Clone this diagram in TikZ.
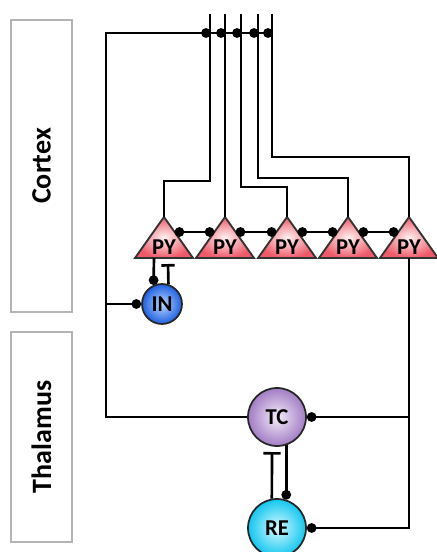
\documentclass[tikz,border=0pt]{standalone}
\usepackage{fontspec}
\setmainfont{Carlito}
\usetikzlibrary{arrows.meta}
\definecolor{pyin}{HTML}{FFF2F2}
\definecolor{pyout}{HTML}{EE5A6A}
\definecolor{inin}{HTML}{B8D8FF}
\definecolor{inout}{HTML}{1E5EE0}
\definecolor{tcin}{HTML}{F4ECFA}
\definecolor{tcout}{HTML}{A27CC4}
\definecolor{rein}{HTML}{D6FAFF}
\definecolor{reout}{HTML}{12C6F0}
\definecolor{boxgray}{HTML}{B4B4B4}
\begin{document}
\begin{tikzpicture}[x=0.75pt,y=-0.75pt,
  wire/.style={line width=2pt, black},
  region/.style={draw=boxgray, line width=2pt},
  regionlbl/.style={font=\bfseries\fontsize{21}{21}\selectfont, rotate=90},
  cell/.style={circle, draw=black!85, line width=1.3pt, inner sep=0pt, font=\bfseries\fontsize{17}{17}\selectfont},
  pylbl/.style={font=\bfseries\fontsize{17}{17}\selectfont, inner sep=0pt},
  todot/.style={-{Circle[length=7.2pt,width=7.2pt]}},
  bothdot/.style={{Circle[length=7.2pt,width=7.2pt]}-{Circle[length=7.2pt,width=7.2pt]}},
  tobar/.style={-{Bar[width=10pt]}},
  tobarwide/.style={-{Bar[width=13pt]}}
]
\useasboundingbox (0,0) rectangle (436,552);

% region boxes
\draw[region] (11,20) rectangle (72,312);
\draw[region] (11,332) rectangle (72,542);
\node[regionlbl] (cortex) at (41.5,166) {Cortex};
\node[regionlbl] (thalamus) at (41.5,437) {Thalamus};

% pyramidal cells
\foreach \c/\n in {164/1,225/2,287/3,348/4,409/5}{
  \shadedraw[draw=black!80, line width=1.4pt, inner color=pyin, outer color=pyout, line join=miter]
    (\c,217) -- ({\c+29},258) -- ({\c-29},258) -- cycle;
  \coordinate (apex\n) at (\c,217);
  \coordinate (base\n) at (\c,258);
  \coordinate (right\n) at ({\c+10.6},232);
  \coordinate (left\n) at ({\c-10.6},232);
  \node[pylbl] (py\n) at (\c,247) {PY};
}

% lateral PY-PY connections
\foreach \a/\b in {1/2,2/3,3/4,4/5}{
  \draw[wire, bothdot] (right\a) -- (left\b);
}

% top input lines
\coordinate (v1t) at (210,14); \coordinate (v1b) at (210,181);
\coordinate (v2t) at (225,14);
\coordinate (v3t) at (241,14); \coordinate (v3b) at (241,187);
\coordinate (v4t) at (258,14); \coordinate (v4b) at (258,178);
\coordinate (v5t) at (272,14); \coordinate (v5b) at (272,157);
\draw[wire] (v1t) -- (v1b) -| (apex1);
\draw[wire] (v2t) -- (apex2);
\draw[wire] (v3t) -- (v3b) -| (apex3);
\draw[wire] (v4t) -- (v4b) -| (apex4);
\draw[wire] (v5t) -- (v5b) -| (apex5);

% thalamic/cortical cells
\node[cell, minimum size=30pt, inner color=inin, outer color=inout] (in) at (162,304) {IN};
\node[cell, minimum size=43.5pt, inner color=tcin, outer color=tcout] (tc) at (277,417) {TC};
\node[cell, minimum size=43.5pt, inner color=rein, outer color=reout] (re) at (277,528) {RE};

% bus and left line
\coordinate (corner) at (106,33);
\coordinate (busend) at (272,33);
\coordinate (injoin) at (106,304);
\draw[wire] (busend) -- (corner) |- (tc.west);
\foreach \x in {206,221,237,254,268}{
  \fill (\x,33) circle[radius=3.7pt];
}
\draw[wire, todot] (injoin) -- (in.west);

% PY1 <-> IN
\coordinate (pyin) at (154,258);
\coordinate (inbar) at (168,264);
\draw[wire, todot] (pyin) -- (in.114);
\draw[wire, tobar] (in.72) -- (inbar);

% right line
\draw[wire, todot] (base5) |- (re.east);
\draw[wire, todot] (tc.east -| base5) -- (tc.east);

% TC <-> RE
\coordinate (tcbar) at (272,452);
\draw[wire, tobarwide] (re.100) -- (tcbar);
\draw[wire, todot] (tc.288) -- (re.72);
\end{tikzpicture}
\end{document}
